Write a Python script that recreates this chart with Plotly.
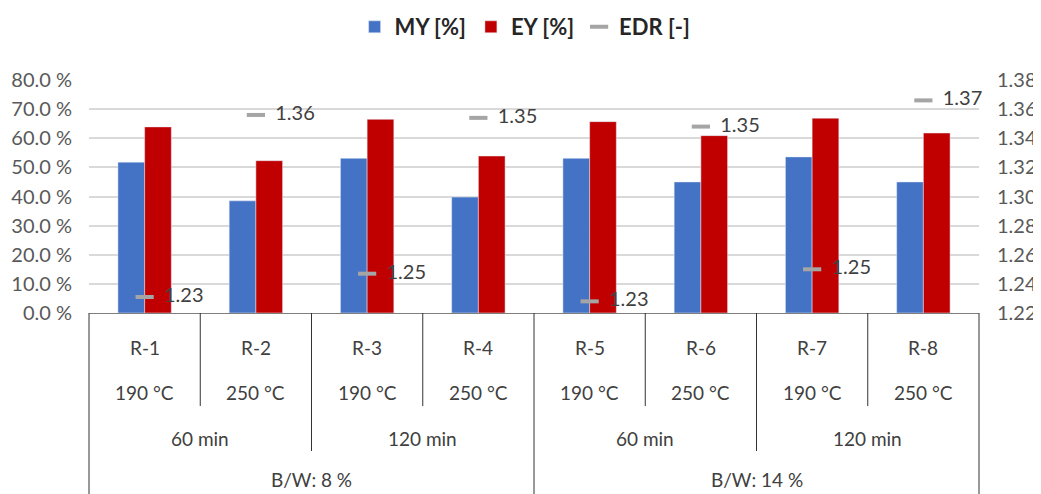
import plotly.graph_objects as go

runs = ["R-1", "R-2", "R-3", "R-4", "R-5", "R-6", "R-7", "R-8"]
temps = ["190 °C", "250 °C", "190 °C", "250 °C", "190 °C", "250 °C", "190 °C", "250 °C"]
times = ["60 min", "120 min", "60 min", "120 min"]
bw = ["B/W: 8 %", "B/W: 14 %"]

my_vals = [51.8, 38.5, 53.1, 39.8, 53.1, 45.0, 53.6, 45.0]
ey_vals = [63.9, 52.3, 66.5, 53.9, 65.7, 60.9, 66.9, 61.8]
edr_vals = [1.231, 1.356, 1.247, 1.354, 1.228, 1.348, 1.250, 1.366]

FONT = "Lato"
OFF = 8  # page body margin
W, H = 1041 - OFF, 494 - OFF
PLOT_TOP, PLOT_BOT = 80, 313      # screen px
PLOT_L, PLOT_R = 89, 979          # screen px
ML, MR = PLOT_L - OFF, W - (PLOT_R - OFF)
MT, MB = PLOT_TOP - OFF, H - (PLOT_BOT - OFF)
plot_h = PLOT_BOT - PLOT_TOP

def py(px):
    return (PLOT_BOT - px) / plot_h

n = len(runs)
def bx(b):
    return b / n

fig = go.Figure()
fig.add_trace(go.Bar(x=runs, y=my_vals, name="MY [%]", marker_color="#4472C4"))
fig.add_trace(go.Bar(x=runs, y=ey_vals, name="EY [%]", marker_color="#C00000"))
fig.add_trace(go.Scatter(
    x=runs, y=edr_vals, name="EDR [-]", yaxis="y2", mode="markers+text",
    marker=dict(symbol="line-ew-open", size=13, color="#A5A5A5",
                line=dict(color="#A5A5A5", width=4)),
    text=[f"{v:.2f}" for v in edr_vals], textposition="middle right",
    texttemplate="  %{text}", cliponaxis=False,
    textfont=dict(family=FONT, size=20, color="#404040"),
))

shapes = []
line = dict(color="#333333", width=1)
for b in [1, 3, 5, 7]:
    shapes.append(dict(type="line", xref="paper", yref="paper", x0=bx(b), x1=bx(b),
                       y0=0, y1=py(406), line=line))
for b in [2, 6]:
    shapes.append(dict(type="line", xref="paper", yref="paper", x0=bx(b), x1=bx(b),
                       y0=0, y1=py(451), line=line))
for b in [0, 4, 8]:
    shapes.append(dict(type="line", xref="paper", yref="paper", x0=bx(b), x1=bx(b),
                       y0=0, y1=py(500), line=line))

annotations = []
lab_font = dict(family=FONT, size=19, color="#404040")
def lab(x, y, t):
    annotations.append(dict(xref="paper", yref="paper", x=x, y=y, text=t,
                            showarrow=False, xanchor="center", yanchor="middle",
                            font=lab_font))
for i in range(n):
    lab(bx(i + 0.5), py(347), runs[i])
    lab(bx(i + 0.5), py(392), temps[i])
for j, t in enumerate(times):
    lab(bx(2 * j + 1), py(438), t)
for k, t in enumerate(bw):
    lab(bx(4 * k + 2), py(479), t)

fig.update_layout(
    width=W, height=H,
    margin=dict(l=ML, r=MR, t=MT, b=MB, autoexpand=False),
    plot_bgcolor="white", paper_bgcolor="white",
    barmode="group", bargap=0.52, bargroupgap=0,
    font=dict(family=FONT, size=19, color="#595959"),
    showlegend=True,
    legend=dict(orientation="h", x=0.49, xanchor="center",
                yref="container", y=1 - (27 - OFF) / H, yanchor="middle",
                font=dict(family=FONT, size=22, color="#262626", weight="bold"),
                itemwidth=30, traceorder="normal"),
    xaxis=dict(showticklabels=False, showgrid=False, zeroline=False,
               showline=True, linecolor="#7F7F7F", linewidth=1, range=[-0.5, 7.5]),
    yaxis=dict(range=[0, 80], tickmode="linear", tick0=0, dtick=10,
               tickformat=".1f", ticksuffix=" %", showticksuffix="all", showgrid=True,
               gridcolor="#D9D9D9", gridwidth=2, zeroline=False,
               ticklabelstandoff=16, automargin=False,
               tickfont=dict(family=FONT, size=20, color="#595959")),
    yaxis2=dict(range=[1.22, 1.38], tickmode="linear", dtick=0.02, tick0=1.22,
                tickformat=".2f", overlaying="y", side="right", showgrid=False,
                zeroline=False, ticklabelstandoff=17, automargin=False,
                tickfont=dict(family=FONT, size=20, color="#595959")),
    shapes=shapes, annotations=annotations,
)

fig.write_html("out.html")
